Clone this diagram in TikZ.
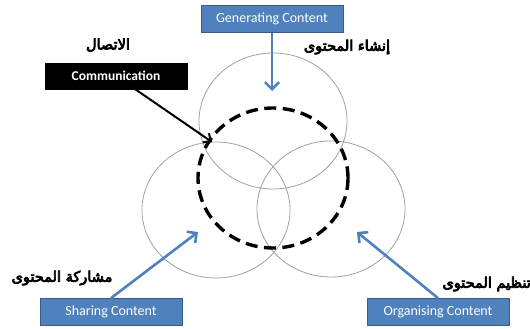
\documentclass[tikz,border=0pt]{standalone}
\usepackage{fontspec}
\setmainfont{Carlito}
\newfontfamily\arabicfont[Script=Arabic,FakeBold=5]{DejaVu Sans}
\TeXXeTstate=1
\usetikzlibrary{arrows.meta}
\definecolor{boxblue}{HTML}{4F81BD}
\definecolor{boxedge}{HTML}{385D8A}
\definecolor{ringgray}{HTML}{A0A0A0}
\tikzset{
  ring/.style={draw=ringgray, line width=0.8pt},
  focus/.style={draw=black, line width=3.4pt, dash pattern=on 12pt off 6.5pt},
  bluebox/.style={fill=boxblue, draw=boxedge, line width=0.8pt, text=white,
    minimum width=142pt, minimum height=27pt, inner sep=0pt, font=\fontsize{14}{16}\selectfont},
  blackbox/.style={fill=black, draw=black, text=white,
    minimum width=142pt, minimum height=26pt, inner sep=0pt, font=\bfseries\fontsize{13.5}{15}\selectfont},
  arlabel/.style={font=\arabicfont\fontsize{14.5}{16}\selectfont, inner sep=0pt},
  bluearrow/.style={draw=boxblue, line width=2.6pt, -{Straight Barb[length=7pt,width=14pt,line width=2.6pt]}},
  blackarrow/.style={draw=black, line width=2pt, -{Straight Barb[length=6pt,width=11pt,line width=2pt]}}
}
\begin{document}
\begin{tikzpicture}[x=1pt,y=-1pt]
\useasboundingbox (0,0) rectangle (530,329);
% three overlapping circles
\draw[ring] (273,121) ellipse [x radius=74, y radius=68];
\draw[ring] (216,210) ellipse [x radius=74, y radius=68];
\draw[ring] (331,209) ellipse [x radius=74, y radius=68];
% dashed core
\draw[focus] (273,178) ellipse [x radius=75, y radius=70];

% boxes
\node[bluebox] (gen) at (272,19) {Generating Content};
\node[blackbox] (comm) at (116,76) {Communication};
\node[bluebox] (share) at (111,312) {Sharing Content};
\node[bluebox] (org) at (438,312) {Organising Content};

% arrow targets
\coordinate (genTip) at (272,91);
\coordinate (commTip) at (212,142);
\coordinate (shareTip) at (198,232);
\coordinate (orgTip) at (357,232);

\draw[bluearrow] (gen.south) -- (genTip);
\draw[blackarrow] (comm) -- (commTip);
\draw[bluearrow] (share.north) -- (shareTip);
\draw[bluearrow] (org.north) -- (orgTip);

% Arabic labels
\node[arlabel] (arGen) at (347,47) {\beginR إنشاء المحتوى\endR};
\node[arlabel] (arComm) at (108,45) {\beginR الاتصال\endR};
\node[arlabel] (arShare) at (62,278) {\beginR مشاركة المحتوى\endR};
\node[arlabel, anchor=east] (arOrg) at (531,284) {\beginR تنظيم المحتوى\endR};
\end{tikzpicture}
\end{document}
